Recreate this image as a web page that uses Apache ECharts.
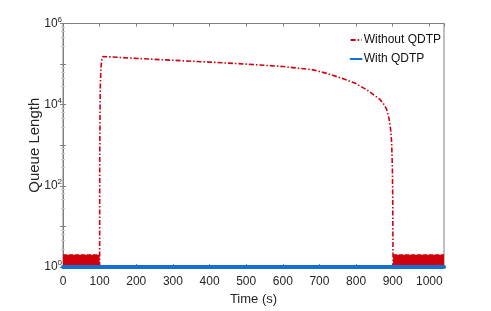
<!DOCTYPE html>
<html><head><meta charset="utf-8">
<script src="https://cdn.jsdelivr.net/npm/echarts@6/dist/echarts.min.js"></script>
<style>html,body{margin:0;padding:0;background:#fff}#c{width:491px;height:311px}</style>
</head><body><div id="c"></div>
<script>
// Data
const redTimes = [100, 100.3, 101, 102, 104, 106, 109, 200, 300, 400, 500, 600, 680, 720, 760, 800, 830, 850, 865, 875, 883, 890, 894, 897, 899, 900, 901];
const redValues = [1, 500, 5000, 35000, 90000, 130000, 154000, 138000, 124000, 112000, 100000, 87000, 73000, 59000, 45000, 33000, 23000, 17000, 13500, 10500, 7900, 4500, 2600, 1200, 300, 60, 1];
// noisy regions (queue oscillating between 1 and ~2) drawn as filled bands
const bandLeftTimes = [0, 100];
const bandRightTimes = [901, 1040];
const bandLevel = 2;
const blueTimes = [0, 1040];
const blueValues = [1, 1];

const zip = (a, b) => a.map((t, i) => [t, b[i]]);
const RED = '#d0000c', BLUE = '#1170d2', AX = '#808080', TXT = '#262626';
const FONT = 'Liberation Sans, Arial, sans-serif';
const chart = echarts.init(document.getElementById('c'), null, {renderer: 'canvas'});
const supFmt = v => { const e = Math.round(Math.log10(v)); return e % 2 ? '' : '{b|10}{s|' + e + '}'; };
chart.setOption({
  animation: false,
  textStyle: {fontFamily: FONT},
  grid: {left: 63, right: 47, top: 23.5, bottom: 40, show: true, borderColor: AX, borderWidth: 1},
  legend: {
    data: ['Without QDTP', 'With QDTP'], orient: 'vertical', right: 50, top: 34,
    itemWidth: 11, itemHeight: 8, itemGap: 7, padding: 0,
    itemStyle: {opacity: 0},
    textStyle: {fontSize: 12, color: '#111', fontFamily: FONT, padding: [0, 0, 0, -3]}
  },
  xAxis: [{
    type: 'value', min: 0, max: 1040, interval: 100,
    name: 'Time (s)', nameLocation: 'middle', nameGap: 26, nameMoveOverlap: false,
    nameTextStyle: {fontSize: 13, color: TXT, fontFamily: FONT},
    axisLine: {lineStyle: {color: AX}}, splitLine: {show: false},
    axisTick: {inside: true, length: 3, lineStyle: {color: AX}},
    axisLabel: {color: TXT, fontSize: 12, margin: 9, fontFamily: FONT, showMaxLabel: false, formatter: v => String(v)}
  }, {
    type: 'value', min: 0, max: 1040, interval: 100, position: 'top',
    axisLine: {lineStyle: {color: AX}}, splitLine: {show: false},
    axisTick: {inside: true, length: 3, lineStyle: {color: AX}}, axisLabel: {show: false}
  }],
  yAxis: [{
    type: 'log', logBase: 10, min: 1, max: 1000000, splitNumber: 6,
    name: 'Queue Length', nameLocation: 'middle', nameGap: 21, nameMoveOverlap: false,
    nameTextStyle: {fontSize: 15, color: TXT, fontFamily: FONT},
    axisLine: {lineStyle: {color: AX}}, splitLine: {show: false},
    axisTick: {inside: true, length: 3, lineStyle: {color: AX}},
    minorTick: {show: true, splitNumber: 5, length: 2, lineStyle: {color: '#c8c8c8'}},
    axisLabel: {formatter: supFmt, margin: 1, color: TXT,
      rich: {b: {fontSize: 12, color: TXT, fontFamily: FONT}, s: {fontSize: 8, color: TXT, fontFamily: FONT, padding: [0, 0, 8, 0]}}}
  }, {
    type: 'log', logBase: 10, min: 1, max: 1000000, splitNumber: 6, position: 'right',
    axisLine: {lineStyle: {color: AX}}, splitLine: {show: false},
    axisTick: {inside: true, length: 3, lineStyle: {color: AX}},
    minorTick: {show: true, splitNumber: 5, length: 2, lineStyle: {color: '#c8c8c8'}},
    axisLabel: {show: false}
  }],
  series: [
    {name: 'Without QDTP', type: 'line', data: zip(redTimes, redValues), symbol: 'none', z: 3,
      lineStyle: {color: RED, width: 1.6, type: [5, 2, 1.5, 2]}, itemStyle: {color: RED}},
    {name: 'bandL', type: 'line', data: bandLeftTimes.map(t => [t, bandLevel]), symbol: 'none', z: 2,
      lineStyle: {color: RED, width: 1, type: [4, 2]}, areaStyle: {color: RED, opacity: 1, origin: 'start'}},
    {name: 'bandR', type: 'line', data: bandRightTimes.map(t => [t, bandLevel]), symbol: 'none', z: 2,
      lineStyle: {color: RED, width: 1, type: [4, 2]}, areaStyle: {color: RED, opacity: 1, origin: 'start'}},
    {name: 'With QDTP', type: 'line', data: zip(blueTimes, blueValues), symbol: 'none', z: 4,
      lineStyle: {color: BLUE, width: 4, cap: 'round'}, itemStyle: {color: BLUE}}
  ]
});
</script></body></html>
